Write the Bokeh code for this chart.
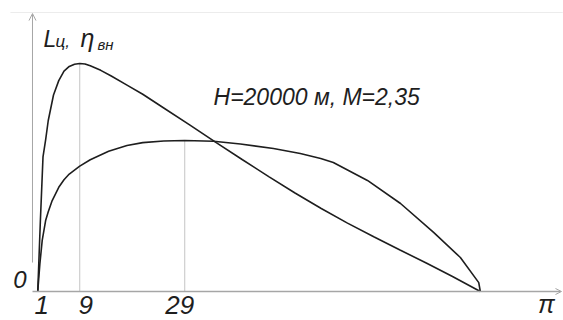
from bokeh.plotting import figure
from bokeh.models import Range1d, Arrow, OpenHead, Label, ColumnDataSource
from bokeh.embed import file_html
from bokeh.resources import INLINE
from bokeh.core.properties import value

# ---- data ----
pi_L = [1, 1.5, 2, 2.5, 3, 4, 5, 6, 7, 8, 9, 10, 11, 13, 15, 18, 21, 25, 30,
        35, 40, 45, 50, 55, 60, 65, 70, 75, 80, 85.3]
L_c = [0.0, 0.31, 0.59, 0.665, 0.75, 0.862, 0.925, 0.967, 0.987, 0.997, 1.0,
       0.998, 0.99, 0.97, 0.945, 0.905, 0.865, 0.805, 0.73, 0.653, 0.578,
       0.504, 0.432, 0.364, 0.300, 0.240, 0.182, 0.125, 0.066, 0.0]

pi_eta = [1, 1.4, 1.85, 2.5, 3, 3.75, 5, 6, 7, 9, 11, 14.5, 18, 21, 25, 29,
          34.5, 39.6, 45.9, 51, 54.9, 57.3, 63.8, 70.1, 76.4, 81.5, 85, 85.3]
eta_vn = [0.0, 0.12, 0.224, 0.311, 0.35, 0.399, 0.457, 0.49, 0.515, 0.55,
          0.578, 0.615, 0.64, 0.653, 0.66, 0.662, 0.659, 0.647, 0.627, 0.605,
          0.583, 0.566, 0.487, 0.386, 0.259, 0.149, 0.039, 0.0]

tick_vals = [1, 9, 29]
tick_labels = ["1", "9", "29"]
note_text = "H=20000 м, M=2,35"

FONT = "Liberation Sans"
TXT = "#1e1e1e"
AXIS = "#a6a6a6"
GRID = "#c4c4c4"
CURVE = "#1e1e1e"

W, H = 563, 320
p = figure(width=W, height=H, output_backend="svg", toolbar_location=None,
           x_range=Range1d(-6.0952, 101.1429), y_range=Range1d(-0.12719, 1.27632),
           x_axis_location=None, y_axis_location=None, min_border=0,
           title_location=None)
p.xgrid.grid_line_color = None
p.ygrid.grid_line_color = None
p.outline_line_color = None
p.background_fill_color = "white"
p.border_fill_color = "white"

# faint top rule
p.line(x=[-4.2, 101.0], y=[1.2237, 1.2237], line_color="#ececec", line_width=1)

# reference verticals at the marked abscissae (up to the curve peaks)
grid_top = [L_c[pi_L.index(9)], eta_vn[pi_eta.index(29)]]
p.segment(x0=tick_vals[1:], y0=[0, 0], x1=tick_vals[1:], y1=grid_top,
          line_color=GRID, line_width=1)

# axes with open arrow heads
p.add_layout(Arrow(end=OpenHead(size=7, line_color=AXIS, line_width=1),
                   x_start=0, y_start=0.127, x_end=0, y_end=1.219,
                   line_color=AXIS, line_width=1))
p.add_layout(Arrow(end=OpenHead(size=6, line_color=AXIS, line_width=1),
                   x_start=0, y_start=0, x_end=100.76, y_end=0,
                   line_color=AXIS, line_width=1.3))

# curves
p.line(x=pi_L, y=L_c, line_color=CURVE, line_width=1.6)
p.line(x=pi_eta, y=eta_vn, line_color=CURVE, line_width=1.6)

# tick labels
src = ColumnDataSource(dict(x=tick_vals, y=[0] * len(tick_vals), text=tick_labels,
                            dx=[4, 6, -5]))
p.text(x="x", y="y", text="text", source=src, x_offset="dx", y_offset=13,
       text_align="center", text_baseline="alphabetic",
       text_font=value(FONT), text_font_style="italic", text_font_size="26px",
       text_color=TXT)

def lab(x, y, t, size, align="left"):
    p.add_layout(Label(x=x, y=y, text=t, text_font=FONT, text_font_style="italic",
                       text_font_size=size, text_color=TXT, text_align=align,
                       text_baseline="alphabetic"))

lab(-1.143, 0.053, "0", "24px", align="right")
lab(97.9, -0.054, "π", "25px", align="center")
lab(2.095, 1.1096, "L", "23px")
lab(4.38, 1.0965, "ц,", "17px")
lab(9.14, 1.114, "η", "25px")
lab(12.38, 1.0833, "вн", "15px")
lab(34.48, 0.851, note_text, "23px")

open("out.html", "w").write(file_html(p, INLINE))
